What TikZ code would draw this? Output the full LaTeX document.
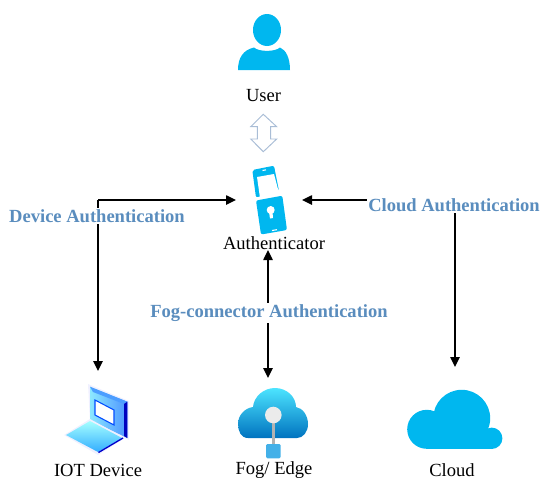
\documentclass[tikz,border=0pt]{standalone}
\usepackage{fontspec}
\setmainfont{Liberation Serif}
\usetikzlibrary{arrows.meta}
\definecolor{iconblue}{HTML}{00B7EF}
\definecolor{authblue}{HTML}{5A8DBE}
\definecolor{hollow}{HTML}{A9BDD6}
\tikzset{
  x=0.75pt,y=-0.75pt,
  lbl/.style={font=\fontsize{13.9pt}{15pt}\selectfont,text=black,inner sep=0pt},
  authlbl/.style={font=\fontsize{13.9pt}{15pt}\selectfont\bfseries,text=authblue,fill=white,inner sep=1pt},
  conn/.style={line width=1.1pt,draw=black},
  tip/.style={-{Triangle[length=7.5pt,width=7pt]}},
  tips/.style={{Triangle[length=7.5pt,width=7pt]}-{Triangle[length=7.5pt,width=7pt]}},
}
\begin{document}
\begin{tikzpicture}
\useasboundingbox (0,0) rectangle (550,490);
% anchors
\coordinate (devcorner) at (98,200);
\coordinate (cloudcorner) at (455,200);
\coordinate (authL) at (236,200);
\coordinate (authR) at (302,200);
\coordinate (authB) at (268,250);
\coordinate (iotT) at (98,371);
\coordinate (fogT) at (268,378);
\coordinate (cloudT) at (455,367);
% connectors
\draw[conn,tip] (devcorner) -- (authL);
\draw[conn,tip] (devcorner) -- (iotT);
\draw[conn,tip] (cloudcorner) -- (authR);
\draw[conn,tip] (cloudcorner) -- (cloudT);
\draw[conn,tips] (authB) -- (fogT);
% user icon
\fill[iconblue] (267,30) ellipse (14 and 16);
\fill[iconblue] (238,70) .. controls (238,58) and (243,50) .. (254,47.5)
  .. controls (259,52) and (275,52) .. (280,47.5)
  .. controls (286,50) and (290,58) .. (290,70) -- cycle;
\node[lbl] (user) at (263.5,96) {User};
% hollow double arrow
\draw[hollow,line width=0.7pt,fill=white,line join=miter]
  (263.3,114.3) -- (276.7,126.7) -- (270.7,126.7) -- (270.7,139) -- (276.7,139)
  -- (263.3,151.7) -- (250.7,139) -- (257.3,139) -- (257.3,126.7) -- (250.7,126.7) -- cycle;
% phone
\fill[iconblue,rounded corners=1.5pt] (252.3,170) -- (274,165.7) -- (279,191) -- (256,197.5) -- cycle;
\fill[white] (257,177) -- (274,174) -- (279,193) -- (260,198) -- cycle;
\fill[iconblue,rounded corners=1.5pt] (256,200.5) -- (282.3,195.7) -- (287,230) -- (261,234.5) -- cycle;
\fill[white] (270.7,210) circle (4);
\fill[white] (269,212) -- (272.5,212) -- (273,218) -- (270,218.5) -- cycle;
\draw[white,line width=0.8pt] (262.5,170.5) -- (266,169.8);
\draw[white,line width=0.8pt] (272,230.5) -- (277,229.7);
\node[lbl] (auth) at (274,243) {Authenticator};
% laptop
\fill[blue!6!white] (88,384) -- (129,401) -- (129,440) -- (90,422) -- cycle;
\shade[left color=blue!20!cyan!45!white,right color=blue!60!cyan!70!white] (90,386.7) -- (127.3,401.7) -- (127.3,438) -- (90,420) -- cycle;
\fill[blue!55!cyan!70!white] (90,386.7) -- (127.3,401.7) -- (124,404) -- (93,392) -- cycle;
\fill[blue!75!black] (124,404) -- (127.3,401.7) -- (127.3,438) -- (124,436) -- cycle;
\fill[white,draw=blue!70!cyan,line width=0.8pt] (95,400) -- (114,410) -- (114,425) -- (95,415) -- cycle;
\fill[blue!6!white] (64,435) -- (90,419) -- (125,438) -- (98,455) -- cycle;
\shade[top color=cyan!35!white,bottom color=cyan!60!blue!80!white] (66,435) -- (90,421) -- (122,438) -- (98,452) -- cycle;
\draw[blue!80!black,line width=1pt] (98.5,452.5) -- (123,438);
\node[lbl] (iot) at (98,470) {IOT Device};
% fog icon
\shade[top color=cyan!85!blue!70!white,bottom color=cyan!60!blue!75!black]
  (248,438) .. controls (241,438) and (238,431) .. (238,424)
  .. controls (238,415) and (245,408) .. (253,407)
  .. controls (254,396) and (264,388) .. (275,388)
  .. controls (287,388) and (296,397) .. (296,407)
  .. controls (303,408) and (308,416) .. (308,424)
  .. controls (308,432) and (303,438) .. (297,438) -- cycle;
\draw[gray!60,line width=2pt] (273.3,415) -- (273.3,446);
\fill[black!8] (273.3,415) circle (8.3);
\fill[cyan!85!blue!75!white,rounded corners=1pt] (266,444) rectangle (280.7,458.3);
\node[lbl] (fog) at (274,470) {Fog/ Edge};
% cloud icon
\fill[iconblue] (426.7,429.3) circle (19.5);
\fill[iconblue] (461.7,418.3) circle (28.5);
\fill[iconblue] (491.7,438.3) circle (10.7);
\fill[iconblue] (426.7,430) rectangle (491.7,449);
\node[lbl] (cloud) at (452,470) {Cloud};
% authentication labels
\node[authlbl] (devauth) at (97,216) {Device Authentication};
\node[authlbl] (cloudauth) at (454,205) {Cloud Authentication};
\node[authlbl] (fogauth) at (269,313) {Fog-connector Authentication};
\end{tikzpicture}
\end{document}
